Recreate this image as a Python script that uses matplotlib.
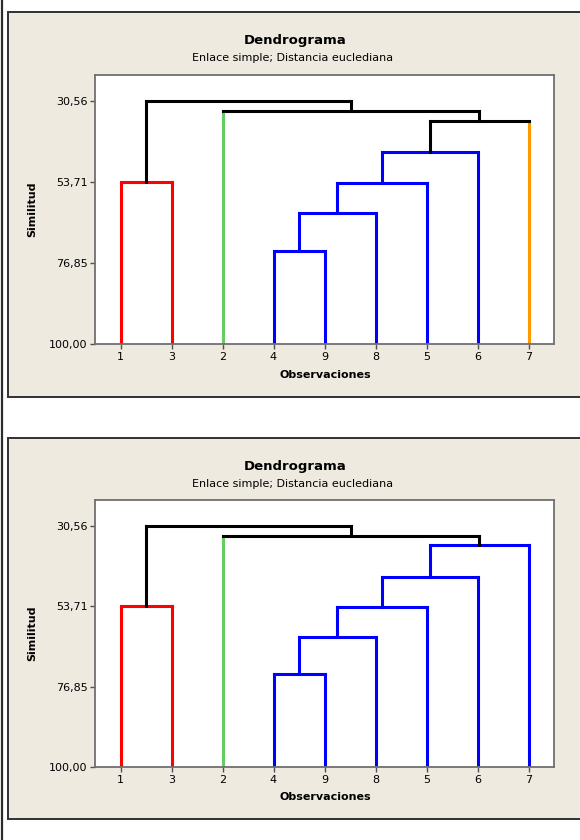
import matplotlib
matplotlib.use('Agg')
from matplotlib import pyplot as plt
from matplotlib.patches import Rectangle
from matplotlib.lines import Line2D

# Observations 1..9, merged in this order (similarity, high -> low)
# node ids: leaves are the observation numbers, merge i makes node 10 + i
merge_left = [4, 10, 11, 1, 12, 14, 2, 13]
merge_right = [9, 8, 5, 3, 6, 7, 15, 16]
merge_sim = [73.26, 62.46, 53.87, 53.71, 45.08, 36.10, 33.30, 30.56]

leaf_order = [1, 3, 2, 4, 9, 8, 5, 6, 7]

y_ticks = [30.56, 53.71, 76.85, 100.00]
y_tick_labels = ['30,56', '53,71', '76,85', '100,00']

# leaf colours for each panel (top: 4 clusters, bottom: 3 clusters)
RED = '#ff0000'
GREEN = '#66cc66'
BLUE = '#0000ff'
ORANGE = '#ff9900'
top_colors = {1: RED, 3: RED, 2: GREEN, 4: BLUE, 9: BLUE, 8: BLUE, 5: BLUE, 6: BLUE, 7: ORANGE}
bot_colors = {1: RED, 3: RED, 2: GREEN, 4: BLUE, 9: BLUE, 8: BLUE, 5: BLUE, 6: BLUE, 7: BLUE}
top_k = 4
bot_k = 3

title = 'Dendrograma'
subtitle = 'Enlace simple; Distancia euclediana'
xlabel = 'Observaciones'
ylabel = 'Similitud'

W, H = 580, 840
PANEL_BG = '#eeeae0'
LW = 2.2


def leaves_of(node):
    if node < 10:
        return [node]
    i = node - 10
    return leaves_of(merge_left[i]) + leaves_of(merge_right[i])


def draw_dendro(ax, leaf_colors, k):
    n = len(leaf_order)
    xpos = {}
    ypos = {}
    for i, lf in enumerate(leaf_order):
        xpos[lf] = i
        ypos[lf] = 100.0
    n_colored = n - k

    def seg(xs, ys, c):
        ax.add_line(Line2D(xs, ys, color=c, lw=LW, solid_capstyle='projecting'))

    for i in range(len(merge_sim)):
        a, b, h = merge_left[i], merge_right[i], merge_sim[i]
        node = 10 + i
        colored = i < n_colored
        mc = leaf_colors[leaves_of(node)[0]] if colored else 'black'
        for ch in (a, b):
            if colored:
                c = mc
            elif ch < 10:
                c = leaf_colors[ch]
            else:
                c = 'black'
            seg([xpos[ch], xpos[ch]], [ypos[ch], h], c)
        seg([xpos[a], xpos[b]], [h, h], mc)
        xpos[node] = (xpos[a] + xpos[b]) / 2.0
        ypos[node] = h

    ax.set_xlim(-0.5, n - 0.5)
    ax.set_ylim(100, 23.0)
    ax.set_xticks(range(n))
    ax.set_xticklabels([str(v) for v in leaf_order])
    ax.set_yticks(y_ticks)
    ax.set_yticklabels(y_tick_labels)
    ax.tick_params(direction='out', length=3.5, width=1, color='#505050',
                   labelsize=8, pad=2)
    for sp in ax.spines.values():
        sp.set_color('#707070')
        sp.set_linewidth(1.3)


fig = plt.figure(figsize=(W / 100, H / 100), dpi=100)
fig.patch.set_facecolor('white')

# left dark rule
fig.add_artist(Line2D([2 / W, 2 / W], [0, 1], transform=fig.transFigure,
                      color='#2b2b2b', lw=1.6, zorder=-1))

panels = [
    # panel top, panel bottom, axes top, axes bottom, colours, k
    (12, 397, 75, 344, top_colors, top_k),
    (438, 819, 500, 767, bot_colors, bot_k),
]

for p_top, p_bot, a_top, a_bot, cols, k in panels:
    fig.add_artist(Rectangle((8 / W, 1 - p_bot / H), 600 / W, (p_bot - p_top) / H,
                             transform=fig.transFigure, facecolor=PANEL_BG,
                             edgecolor='#303030', lw=1.4, zorder=-2))
    ax = fig.add_axes([95 / W, 1 - a_bot / H, (554 - 95) / W, (a_bot - a_top) / H])
    ax.set_facecolor('white')
    draw_dendro(ax, cols, k)

    fig.text(295 / W, 1 - (p_top + 28.5) / H, title, ha='center', va='center',
             fontsize=9.5, fontweight='bold')
    fig.text(293 / W, 1 - (p_top + 46) / H, subtitle, ha='center', va='center',
             fontsize=8)
    fig.text(325 / W, 1 - (a_bot + 30.5) / H, xlabel, ha='center', va='center',
             fontsize=8, fontweight='bold')
    fig.text(32 / W, 1 - (a_top + a_bot) / 2 / H, ylabel, ha='center', va='center',
             rotation=90, fontsize=8, fontweight='bold')

fig.savefig('out.png', dpi=100)
